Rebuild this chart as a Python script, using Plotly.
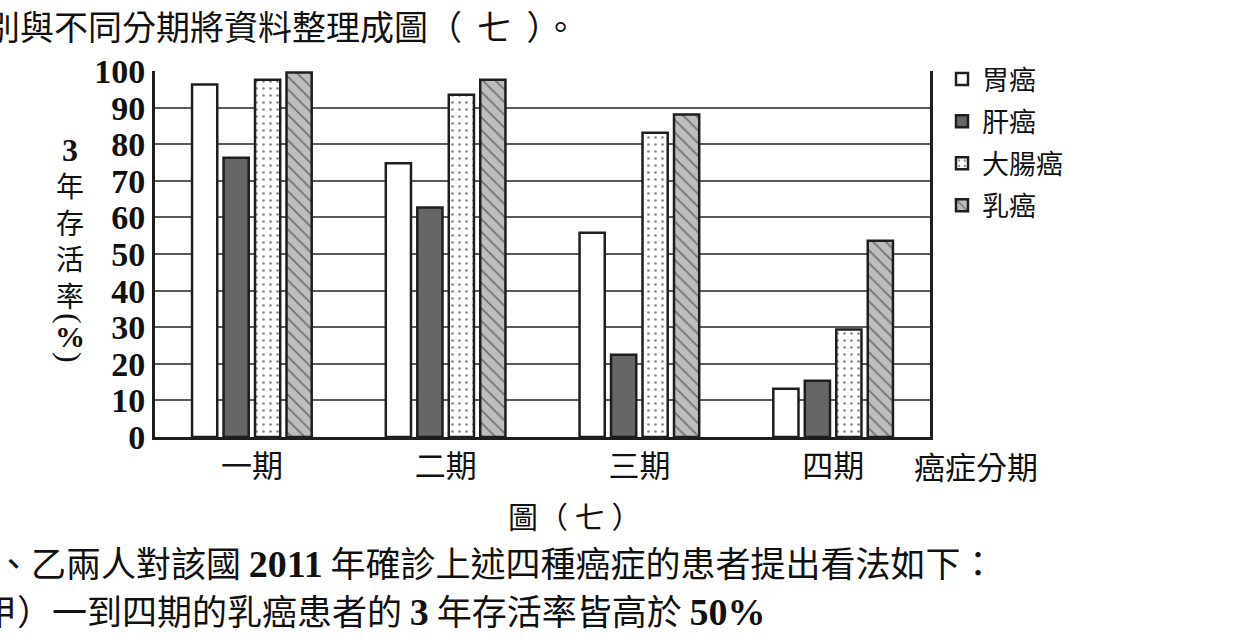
import plotly.graph_objects as go

stages = ["一期", "二期", "三期", "四期"]
series_names = ["胃癌", "肝癌", "大腸癌", "乳癌"]
stomach = [96.3, 74.8, 55.8, 13.2]
liver = [76.3, 62.7, 22.5, 15.4]
colorectal = [97.6, 93.5, 83.1, 29.4]
breast = [99.6, 97.6, 88.1, 53.6]
y_ticks = [0, 10, 20, 30, 40, 50, 60, 70, 80, 90, 100]

CJK = "Noto Sans CJK TC"
SERIF = "Liberation Serif"
EDGE = "#1e1e1e"
INK = "#111111"

W, H = 1260, 640
L, R, T, B = 155, 930, 71, 437  # plot area in pixels


def px(x):
    return (x - L) / (R - L)


def py(y):
    return (B - y) / (B - T)


styles = [
    dict(color="white", pattern=dict(shape="")),
    dict(color="#666666", pattern=dict(shape="")),
    dict(color="white", pattern=dict(shape=".", fgcolor="#111111", bgcolor="white", size=7, solidity=0.12)),
    dict(color="#bdbdbd", pattern=dict(shape="\\", fgcolor="#222222", bgcolor="#bdbdbd", size=9, solidity=0.18)),
]

fig = go.Figure()
for name, vals, st in zip(series_names, [stomach, liver, colorectal, breast], styles):
    fig.add_trace(go.Bar(
        x=stages, y=vals, name=name, legendgroup=name,
        marker=dict(color=st["color"], pattern=st["pattern"],
                    line=dict(color=EDGE, width=2.5)),
    ))

fig.update_layout(
    width=W, height=H,
    margin=dict(l=L, r=W - R, t=T, b=H - B, autoexpand=False),
    paper_bgcolor="white", plot_bgcolor="white",
    barmode="group", bargap=0.35, bargroupgap=0.2,
    showlegend=True,
    legend=dict(x=px(942), y=py(55), xanchor="left", yanchor="top",
                font=dict(family=CJK, size=27, color=INK),
                tracegroupgap=4, itemwidth=30, bgcolor="rgba(0,0,0,0)"),
    font=dict(family=CJK, color=INK),
)
fig.update_xaxes(
    showline=True, linecolor=EDGE, linewidth=3,
    ticks="", tickfont=dict(family=CJK, size=31, color=INK),
    showgrid=False,
)
fig.update_yaxes(
    range=[0, 100], tickvals=y_ticks, ticktext=[f"<b>{v}</b>" for v in y_ticks],
    tickfont=dict(family=SERIF, size=34, color=INK),
    showline=True, linecolor=EDGE, linewidth=3, mirror=True,
    showgrid=True, gridcolor="#5a5a5a", gridwidth=2,
    ticks="", zeroline=False,
)


def ser(s, size=None):
    fs = f";font-size:{size}px" if size else ""
    return f"<span style='font-family:{SERIF}{fs}'><b>{s}</b></span>"


ann = []
# y-axis title (vertical)
ann.append(dict(xref="paper", yref="paper", x=px(70), y=py(130), xanchor="center", yanchor="top",
                text=ser("3", 32) + "<br>年<br>存<br>活<br>率",
                showarrow=False, font=dict(family=CJK, size=28, color=INK), align="center"))
ann.append(dict(xref="paper", yref="paper", x=px(70), y=py(337), xanchor="center", yanchor="middle",
                text="<b>%</b>", showarrow=False, font=dict(family=SERIF, size=30, color=INK)))
ann.append(dict(xref="paper", yref="paper", x=px(70), y=py(318), xanchor="center", yanchor="middle",
                text="(", textangle=90, showarrow=False, font=dict(family=SERIF, size=32, color=INK)))
ann.append(dict(xref="paper", yref="paper", x=px(70), y=py(357), xanchor="center", yanchor="middle",
                text=")", textangle=90, showarrow=False, font=dict(family=SERIF, size=32, color=INK)))
# x-axis title
ann.append(dict(xref="paper", yref="paper", x=px(976), y=py(465), xanchor="center", yanchor="middle",
                text="癌症分期", showarrow=False, font=dict(family=CJK, size=31, color=INK)))
# surrounding page text
ann.append(dict(xref="paper", yref="paper", x=px(-16), y=py(26), xanchor="left", yanchor="middle",
                text="別與不同分期將資料整理成圖（  七  ）。", showarrow=False,
                font=dict(family=CJK, size=34, color=INK)))
ann.append(dict(xref="paper", yref="paper", x=px(574), y=py(515), xanchor="center", yanchor="middle",
                text="圖（ 七 ）", showarrow=False, font=dict(family=CJK, size=30, color=INK)))
ann.append(dict(xref="paper", yref="paper", x=px(-6), y=py(561), xanchor="left", yanchor="middle",
                text="、乙兩人對該國 " + ser("2011", 38) + " 年確診上述四種癌症的患者提出看法如下：",
                showarrow=False, font=dict(family=CJK, size=35, color=INK)))
ann.append(dict(xref="paper", yref="paper", x=px(-20), y=py(609), xanchor="left", yanchor="middle",
                text="甲）一到四期的乳癌患者的 " + ser("3", 38) + " 年存活率皆高於 " + ser("50%", 38),
                showarrow=False, font=dict(family=CJK, size=35, color=INK)))
fig.update_layout(annotations=ann)

fig.write_html("out.html", config={"displayModeBar": False},
               post_script="document.body.style.margin='0';document.body.style.overflow='hidden';")
